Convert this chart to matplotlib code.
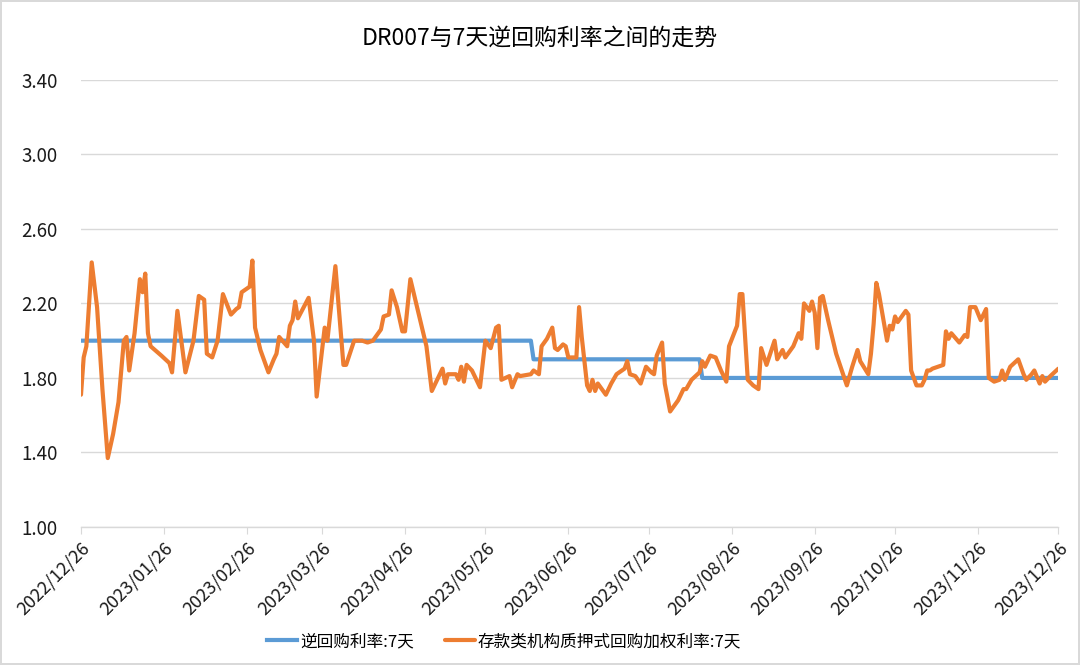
import numpy as np
import pandas as pd
import matplotlib
matplotlib.use("Agg")
import matplotlib.pyplot as plt
import matplotlib.dates as mdates

plt.rcParams['font.family'] = ['Noto Sans CJK SC', 'DejaVu Sans']

title = 'DR007与7天逆回购利率之间的走势'
label_repo = '逆回购利率:7天'
label_dr = '存款类机构质押式回购加权利率:7天'

start = pd.Timestamp('2022-12-26')
end = pd.Timestamp('2023-12-26')

# 7-day reverse repo policy rate
repo_dates = ['2022-12-26', '2023-06-12', '2023-06-13', '2023-08-14', '2023-08-15', '2023-12-26']
repo_rate = [2.00, 2.00, 1.90, 1.90, 1.80, 1.80]

# DR007, days after 2022-12-26
dr_day = [0, 1, 2, 4, 6, 8, 10, 12, 14, 16, 17, 18, 20, 22, 23, 24, 25, 26, 30, 33,
          34, 36, 39, 42, 44, 46, 47, 49, 51, 53, 56, 58, 59, 60, 63, 64, 65, 67, 70, 72,
          73, 74, 77, 78, 79, 80, 81, 85, 87, 88, 91, 92, 95, 98, 99, 102, 105, 107, 109, 112,
          113, 115, 116, 118, 120, 121, 123, 126, 129, 131, 133, 135, 136, 137, 140, 141, 142, 143, 144, 146,
          149, 151, 153, 155, 156, 157, 160, 161, 163, 164, 168, 169, 171, 172, 174, 176, 177, 178, 180, 181,
          182, 185, 186, 187, 189, 190, 191, 192, 193, 194, 196, 198, 200, 203, 204, 205, 207, 209, 211, 213,
          214, 215, 217, 218, 220, 223, 225, 226, 228, 231, 232, 233, 235, 237, 239, 241, 242, 245, 246, 247,
          249, 251, 253, 254, 256, 259, 260, 262, 263, 266, 268, 269, 270, 272, 273, 274, 275, 276, 277, 279,
          282, 286, 288, 290, 291, 294, 295, 296, 297, 298, 301, 302, 303, 304, 305, 308, 309, 310, 312, 314,
          315, 316, 317, 318, 322, 323, 324, 325, 328, 330, 331, 332, 334, 336, 338, 339, 341, 343, 344, 345,
          347, 350, 352, 353, 355, 356, 358, 359, 360, 362, 365]
dr_rate = [1.71, 1.91, 1.97, 2.42, 2.18, 1.74, 1.37, 1.50, 1.67, 2.00, 2.02, 1.84, 2.04, 2.33, 2.26, 2.36, 2.04, 1.97, 1.92, 1.88,
           1.83, 2.16, 1.83, 2.00, 2.24, 2.22, 1.93, 1.91, 2.00, 2.25, 2.14, 2.17, 2.18, 2.26, 2.29, 2.43, 2.07, 1.95, 1.83, 1.90,
           1.93, 2.02, 1.97, 2.08, 2.11, 2.21, 2.12, 2.23, 2.00, 1.70, 2.07, 2.00, 2.40, 1.87, 1.87, 2.00, 2.00, 1.99, 2.00, 2.06,
           2.13, 2.14, 2.27, 2.18, 2.05, 2.05, 2.33, 2.15, 1.97, 1.73, 1.79, 1.85, 1.77, 1.82, 1.82, 1.79, 1.86, 1.78, 1.87, 1.84,
           1.75, 2.00, 1.96, 2.07, 2.08, 1.79, 1.81, 1.75, 1.82, 1.81, 1.82, 1.84, 1.82, 1.97, 2.01, 2.07, 1.96, 1.95, 1.98, 1.97,
           1.91, 1.91, 2.18, 2.02, 1.76, 1.73, 1.79, 1.73, 1.77, 1.75, 1.71, 1.77, 1.82, 1.85, 1.89, 1.82, 1.81, 1.77, 1.86, 1.83,
           1.82, 1.92, 1.99, 1.77, 1.62, 1.68, 1.74, 1.74, 1.79, 1.83, 1.89, 1.86, 1.92, 1.91, 1.84, 1.78, 1.97, 2.08, 2.25, 2.25,
           1.79, 1.76, 1.74, 1.96, 1.87, 2.00, 1.90, 1.95, 1.91, 1.97, 2.04, 2.01, 2.20, 2.16, 2.21, 2.15, 1.96, 2.23, 2.24, 2.11,
           1.93, 1.76, 1.86, 1.95, 1.89, 1.82, 1.93, 2.09, 2.31, 2.25, 2.00, 2.08, 2.06, 2.13, 2.10, 2.16, 2.14, 1.84, 1.76, 1.76,
           1.79, 1.84, 1.84, 1.85, 1.87, 2.05, 2.01, 2.04, 1.99, 2.03, 2.02, 2.18, 2.18, 2.11, 2.17, 1.80, 1.78, 1.79, 1.84, 1.79,
           1.86, 1.90, 1.82, 1.79, 1.82, 1.84, 1.77, 1.81, 1.78, 1.81, 1.85]

dr_dates = start + pd.to_timedelta(dr_day, unit='D')

fig = plt.figure(figsize=(10.8, 6.65), dpi=100)
fig.patch.set_edgecolor('#d9d9d9')
fig.patch.set_linewidth(1.5)
ax = fig.add_axes([0.075, 0.2075, 0.905, 0.6725])

ax.plot(pd.to_datetime(repo_dates), repo_rate, color='#5B9BD5', lw=3,
        solid_joinstyle='round', label=label_repo, zorder=2)
ax.plot(dr_dates, dr_rate, color='#ED7D31', lw=3,
        solid_joinstyle='round', solid_capstyle='round', label=label_dr, zorder=3)

ax.set_ylim(1.0, 3.4)
ax.set_yticks(np.arange(1.0, 3.41, 0.4))
ax.yaxis.set_major_formatter(plt.FuncFormatter(lambda v, p: f'{v:.2f}'))
ax.set_xlim(start, end)
ax.xaxis.set_major_locator(mdates.MonthLocator(bymonthday=26))
ax.xaxis.set_major_formatter(mdates.DateFormatter('%Y/%m/%d'))

ax.grid(axis='y', color='#d9d9d9', lw=1)
ax.set_axisbelow(True)
for s in ['top', 'right', 'left']:
    ax.spines[s].set_visible(False)
ax.spines['bottom'].set_color('#d9d9d9')
ax.spines['bottom'].set_linewidth(1)
ax.tick_params(axis='y', length=0, labelsize=13.5, pad=17, colors='#1a1a1a')
ax.tick_params(axis='x', length=5, color='#d9d9d9', labelsize=13, colors='#1a1a1a')
for lbl in ax.get_xticklabels():
    lbl.set_rotation(45)
    lbl.set_ha('right')
    lbl.set_rotation_mode('anchor')

fig.suptitle(title, y=0.96, fontsize=16.5, color='black')
fig.legend(loc='lower center', bbox_to_anchor=(0.467, 0.0), ncol=2, frameon=False,
           fontsize=12, handlelength=1.8, columnspacing=1.9, handletextpad=0.15)

fig.savefig('out.png', dpi=100)
